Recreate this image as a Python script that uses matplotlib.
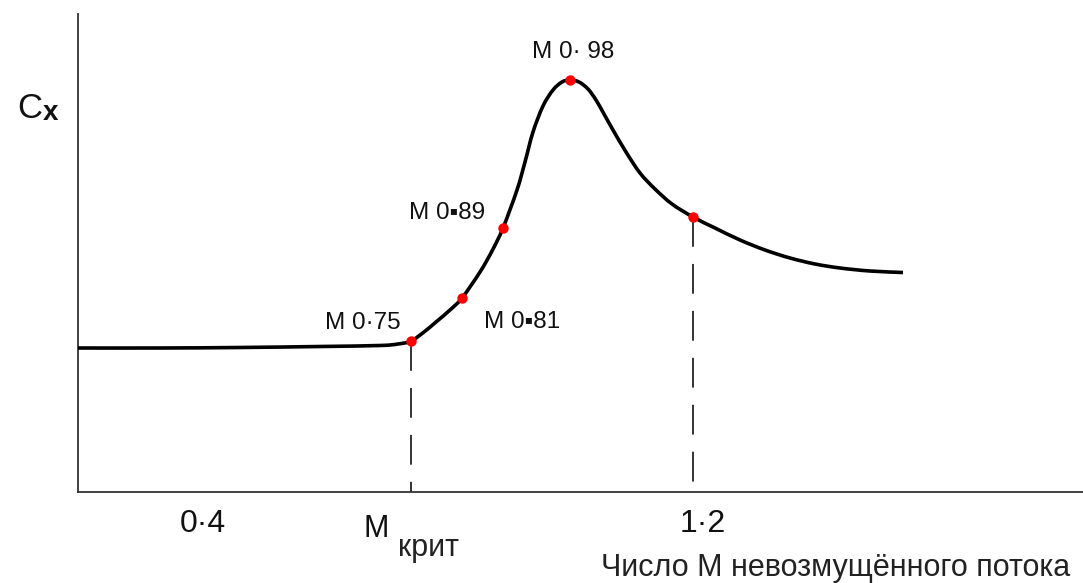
import matplotlib
matplotlib.use("Agg")
import numpy as np
import matplotlib.pyplot as plt
from matplotlib.path import Path
from matplotlib.patches import PathPatch

# Schematic drag curve Cx versus free-stream Mach number (arbitrary units)
curve_x = [0, 8.2, 16.2, 24.2, 30.2, 32.0, 33.3, 34.6, 35.8, 37.2, 38.4, 40.2,
           41.4, 42.5, 43.9, 44.7, 45.5, 46.5, 47.5, 48.4, 49.2, 50.1, 51.0,
           51.8, 52.6, 53.5, 54.8, 56.2, 57.7, 59.4, 61.5, 63.7, 66.2, 68.7,
           71.2, 73.7, 76.2, 79.2, 82.5]
curve_cx = [14.4, 14.4, 14.45, 14.55, 14.65, 14.8, 15.1, 16.0, 17.0, 18.2,
            19.4, 22.0, 24.1, 26.4, 30.2, 33.0, 36.0, 38.6, 40.2, 41.0, 41.2,
            41.0, 40.3, 39.2, 37.8, 36.2, 34.0, 31.9, 30.3, 28.8, 27.5, 26.4,
            25.2, 24.2, 23.4, 22.8, 22.4, 22.1, 21.95]

# Marked points on the curve and their labels
mark_x = [33.3, 38.4, 42.5, 49.2, 61.5]
mark_cx = [15.1, 19.4, 26.4, 41.2, 27.5]
mark_labels = ["M 0·75", "M 0▪81", "M 0▪89", "M 0· 98", ""]
label_offsets = [(-35, 13), (43, -17), (-40, 11), (2, 20), (0, 0)]

# Points dropped to the Mach axis
drop_idx = [0, 4]

# Axis captions
axis_ticks_x = [12.5, 62.5]
axis_ticks_text = ["0·4", "1·2"]
mcrit_x = 33.5


def smooth_path(xs, ys):
    """Cubic Bezier path passing through every (x, y) point."""
    p = np.column_stack([xs, ys]).astype(float)
    n = len(p)
    verts = [p[0]]
    codes = [Path.MOVETO]
    for i in range(n - 1):
        p0 = p[i - 1] if i > 0 else p[i]
        p1, p2 = p[i], p[i + 1]
        p3 = p[i + 2] if i + 2 < n else p[i + 1]
        verts += [p1 + (p2 - p0) / 6, p2 - (p3 - p1) / 6, p2]
        codes += [Path.CURVE4] * 3
    return Path(verts, codes)


fig = plt.figure(figsize=(10.83, 5.83), dpi=100)
ax = fig.add_axes([78 / 1083, 91 / 583, 1005 / 1083, 478 / 583])
ax.set_xlim(0, 100.5)
ax.set_ylim(0, 47.8)
for side in ("top", "right"):
    ax.spines[side].set_visible(False)
for side in ("left", "bottom"):
    ax.spines[side].set_color("#333333")
    ax.spines[side].set_linewidth(1.3)
ax.set_xticks([])
ax.set_yticks([])

font = ["Liberation Sans", "DejaVu Sans"]

ax.add_patch(PathPatch(smooth_path(curve_x, curve_cx), fill=False,
                       edgecolor="black", lw=2.6, joinstyle="round",
                       capstyle="butt", zorder=3))

for i in drop_idx:
    ax.plot([mark_x[i], mark_x[i]], [mark_cx[i], 0], color="#222222", lw=1.3,
            dashes=(16.5, 9.5), zorder=2)

ax.plot(mark_x, mark_cx, "o", color="#ff0000", ms=7.5, mec="none", zorder=4)

for x, y, t, off in zip(mark_x, mark_cx, mark_labels, label_offsets):
    if t:
        ax.annotate(t, (x, y), xytext=off, textcoords="offset points",
                    ha="center", va="center", fontsize=17.5, family=font,
                    color="#111111")

# Cx label
fig.text(17 / 1083, 1 - 108 / 583, "C", fontsize=25, family=font,
         ha="left", va="center", color="#111111")
fig.text(43 / 1083, 1 - 113 / 583, "x", fontsize=20, family=font,
         fontweight="bold", ha="left", va="center", color="#111111")

for x, t in zip(axis_ticks_x, axis_ticks_text):
    ax.text(x, -3.2, t, fontsize=23, family=font, ha="center", va="center",
            color="#111111", clip_on=False)

ax.text(mcrit_x - 3.7, -3.7, "M", fontsize=22, family=font, ha="center",
        va="center", color="#111111", clip_on=False)
ax.text(mcrit_x - 1.5, -5.6, "крит", fontsize=22, family=font, ha="left",
        va="center", color="#222222", clip_on=False)

ax.text(75.8, -7.6, "Число М невозмущённого потока", fontsize=22,
        family=font, ha="center", va="center", color="#222222",
        clip_on=False)

fig.savefig("out.png", dpi=100)
